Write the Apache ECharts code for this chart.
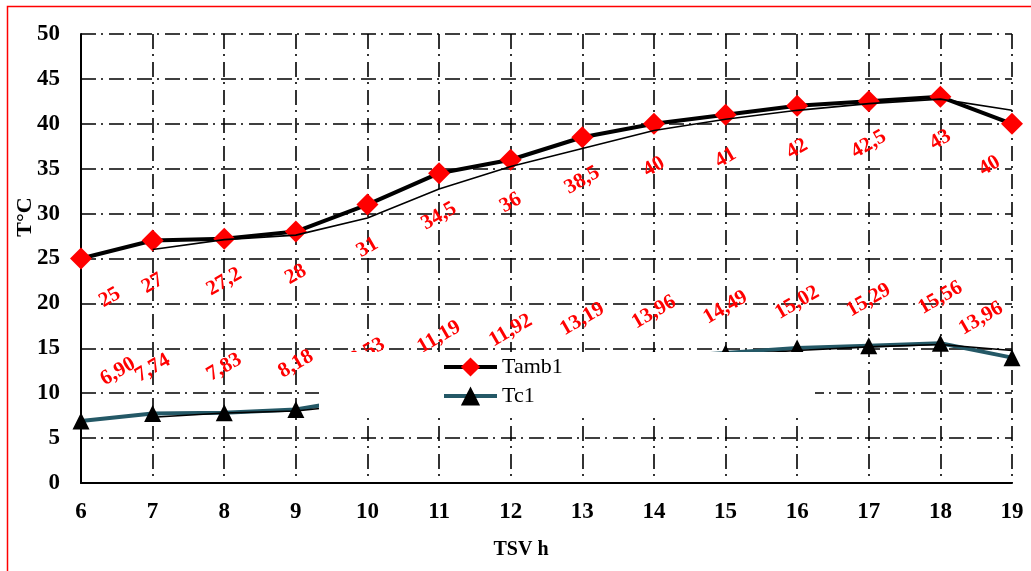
<!DOCTYPE html>
<html>
<head>
<meta charset="utf-8">
<script src="https://cdn.jsdelivr.net/npm/echarts@6/dist/echarts.min.js"></script>
<style>
  html, body { margin: 0; padding: 0; background: #fff; overflow: hidden; }
  #chart { width: 1031px; height: 571px; }
</style>
</head>
<body>
<div id="chart"></div>
<script>
const hours = [6, 7, 8, 9, 10, 11, 12, 13, 14, 15, 16, 17, 18, 19]
const tamb1 = [25, 27, 27.2, 28, 31, 34.5, 36, 38.5, 40, 41, 42, 42.5, 43, 40]
const tc1 = [6.90, 7.74, 7.83, 8.18, 9.53, 11.19, 11.92, 13.19, 13.96, 14.49, 15.02, 15.29, 15.56, 13.96]
// thin trendlines (2-point moving average as drawn in the original)
const tambTrend = [null, 26, 27.1, 27.6, 29.5, 32.75, 35.25, 37.25, 39.25, 40.5, 41.5, 42.25, 42.75, 41.5]
const tcTrend = [null, 7.32, 7.79, 8.01, 8.86, 10.36, 11.56, 12.56, 13.58, 14.23, 14.76, 15.16, 15.43, 14.76]

const SERIF = '"Liberation Serif", "Times New Roman", serif'
const GRID_DASH = [15, 5, 2, 6]
const TC_COLOR = '#245866'

const chart = echarts.init(document.getElementById('chart'), null, { renderer: 'canvas' })

function fmt(v) {
  return String(v).replace('.', ',')
}

function pairs(ys, labelFix) {
  return hours.map((h, i) => {
    const item = { value: [h, ys[i]] }
    if (labelFix && labelFix[i]) item.label = { offset: labelFix[i] }
    return item
  })
}

function trend(ys) {
  return hours.map((h, i) => [h, ys[i]]).filter((p) => p[1] != null)
}

const labelBase = {
  show: true,
  rotate: 30,
  align: 'center',
  verticalAlign: 'middle',
  color: '#ff0000',
  fontFamily: SERIF,
  fontWeight: 'bold',
  fontSize: 21
}

chart.setOption({
  animation: false,
  backgroundColor: '#fff',
  grid: { left: 81, right: 19, top: 34, bottom: 88 },
  xAxis: {
    type: 'value',
    min: 6,
    max: 19,
    interval: 1,
    axisLine: { show: true, onZero: false, lineStyle: { color: '#000', width: 2 } },
    axisTick: { show: false },
    axisLabel: { color: '#000', fontFamily: SERIF, fontWeight: 'bold', fontSize: 23, margin: 18 },
    splitLine: { show: true, lineStyle: { color: '#000', width: 1.6, type: GRID_DASH } }
  },
  yAxis: {
    type: 'value',
    min: 0,
    max: 50,
    interval: 5,
    axisLine: { show: true, onZero: false, lineStyle: { color: '#000', width: 2 } },
    axisTick: { show: false },
    axisLabel: { color: '#000', fontFamily: SERIF, fontWeight: 'bold', fontSize: 23, margin: 21 },
    splitLine: { show: true, lineStyle: { color: '#000', width: 1.6, type: GRID_DASH } }
  },
  legend: {
    orient: 'vertical',
    left: 442,
    top: 356,
    padding: 0,
    z: 20,
    itemGap: 7,
    itemWidth: 53,
    itemHeight: 24,
    lineStyle: { width: 4 },
    data: ['Tamb1', 'Tc1'],
    textStyle: { color: '#000', fontFamily: SERIF, fontSize: 22 }
  },
  graphic: [
    {
      type: 'rect',
      z: 10,
      shape: { x: 319, y: 352, width: 496, height: 61 },
      style: { fill: '#fff' }
    },
    {
      type: 'rect',
      z: 30,
      shape: { x: 7.5, y: 6.5, width: 1100, height: 700 },
      style: { fill: 'none', stroke: '#ff0000', lineWidth: 1.5 }
    },
    {
      type: 'text',
      z: 30,
      x: 25,
      y: 217,
      rotation: Math.PI / 2,
      style: {
        text: 'T°C',
        fill: '#000',
        font: 'bold 22px ' + SERIF,
        align: 'center',
        verticalAlign: 'middle'
      }
    },
    {
      type: 'text',
      z: 30,
      x: 521,
      y: 550,
      style: {
        text: 'TSV h',
        fill: '#000',
        font: 'bold 20px ' + SERIF,
        align: 'center',
        verticalAlign: 'middle'
      }
    }
  ],
  series: [
    {
      name: 'Tamb1',
      type: 'line',
      data: pairs(tamb1, { 0: [27, 11], 13: [-19, -12] }),
      symbol: 'diamond',
      symbolSize: 22,
      itemStyle: { color: '#ff0000' },
      lineStyle: { color: '#000', width: 4 },
      label: {
        ...labelBase,
        position: 'bottom',
        distance: 32,
        formatter: (p) => fmt(p.value[1])
      },
      z: 3
    },
    {
      name: 'Tc1',
      type: 'line',
      data: pairs(tc1, { 0: [34, 15], 13: [-30, -10] }),
      symbol: 'triangle',
      symbolSize: 17,
      itemStyle: { color: '#000' },
      lineStyle: { color: TC_COLOR, width: 4 },
      label: {
        ...labelBase,
        position: 'top',
        distance: 37,
        formatter: (p) => p.value[1].toFixed(2).replace('.', ',')
      },
      z: 3
    },
    {
      name: 'Tamb1 trend',
      type: 'line',
      data: trend(tambTrend),
      symbol: 'none',
      lineStyle: { color: '#000', width: 1.6 },
      z: 4
    },
    {
      name: 'Tc1 trend',
      type: 'line',
      data: trend(tcTrend),
      symbol: 'none',
      lineStyle: { color: '#000', width: 1.6 },
      z: 4
    }
  ]
})
</script>
</body>
</html>
